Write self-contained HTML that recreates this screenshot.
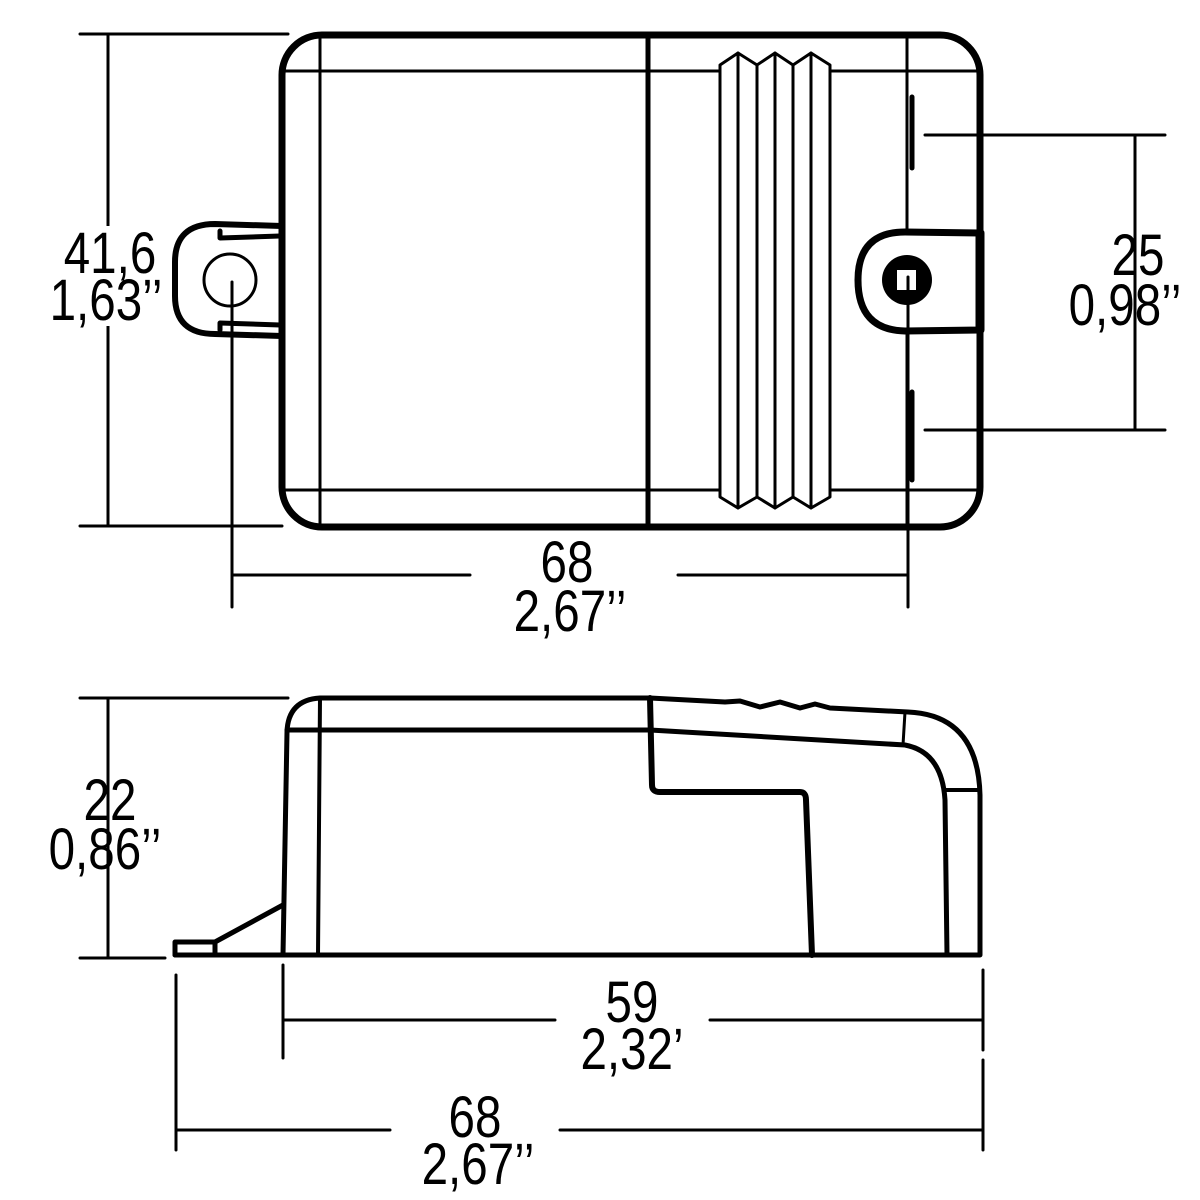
<!DOCTYPE html>
<html><head><style>html,body{margin:0;padding:0;background:#fff}svg{display:block}text{font-family:"Liberation Sans",sans-serif;font-size:58px;fill:#000}</style></head>
<body>
<svg width="1200" height="1200" viewBox="0 0 1200 1200" xmlns="http://www.w3.org/2000/svg" fill="none" stroke="#000" stroke-linecap="round" stroke-linejoin="round">
<!-- TOP VIEW -->
<g stroke-width="3">
<line x1="80" y1="34" x2="288" y2="34"/><line x1="80" y1="526" x2="282" y2="526"/>
<line x1="108" y1="34" x2="108" y2="526"/>
<line x1="232" y1="282" x2="232" y2="607"/><line x1="908" y1="290" x2="908" y2="607"/>
<line x1="232" y1="575" x2="470" y2="575"/><line x1="678" y1="575" x2="908" y2="575"/>
<line x1="925" y1="135" x2="1165" y2="135"/><line x1="925" y1="430" x2="1165" y2="430"/>
<line x1="1135" y1="135" x2="1135" y2="430"/>
</g>
<rect x="50" y="226" width="120" height="100" fill="#fff" stroke="none"/>
<!-- left tab -->
<path d="M282 226 L215 224 Q175 224 175 262 L175 296 Q175 334 215 334 L282 336" stroke-width="6"/>
<path d="M220 231 L220 238 L280 236 M220 330 L220 323 L280 325" stroke-width="5"/>
<circle cx="230" cy="280" r="26" stroke-width="3"/>
<!-- body -->
<rect x="282" y="35" width="698" height="492" rx="40" stroke-width="7"/>
<g stroke-width="3">
<line x1="282" y1="71" x2="720" y2="71"/><line x1="830" y1="71" x2="980" y2="71"/>
<line x1="282" y1="490" x2="720" y2="490"/><line x1="830" y1="490" x2="980" y2="490"/>
<line x1="320" y1="35" x2="320" y2="527"/>
<line x1="907" y1="35" x2="907" y2="527"/>
</g>
<line x1="648" y1="35" x2="648" y2="527" stroke-width="5"/>
<!-- ribs -->
<g stroke-width="3">
<path d="M720 65 L738 53 L757 65 L757 497 L738 508 L720 497 Z"/>
<path d="M757 65 L775 53 L793 65 L793 497 L775 508 L757 497 Z"/>
<path d="M793 65 L811 53 L830 65 L830 497 L811 508 L793 497 Z"/>
<line x1="738" y1="53" x2="738" y2="508"/><line x1="775" y1="53" x2="775" y2="508"/><line x1="811" y1="53" x2="811" y2="508"/>
</g>
<line x1="912" y1="97" x2="912" y2="168" stroke-width="5"/>
<line x1="912" y1="392" x2="912" y2="480" stroke-width="5"/>
<!-- right tab -->
<path d="M980 233 L905 232 Q858 232 858 280 Q858 330 905 331 L980 330 Z" fill="#fff" stroke-width="7"/>
<line x1="980" y1="233" x2="980" y2="330" stroke-width="9"/>
<circle cx="907" cy="280" r="25" fill="#000" stroke="none"/>
<rect x="897" y="270" width="19" height="20" fill="#fff" stroke="none"/>
<line x1="908" y1="277" x2="908" y2="330" stroke-width="3"/>
<!-- SIDE VIEW -->
<g stroke-width="3">
<line x1="80" y1="698" x2="288" y2="698"/><line x1="80" y1="958" x2="165" y2="958"/>
<line x1="108" y1="698" x2="108" y2="958"/>
<line x1="283" y1="965" x2="283" y2="1058"/><line x1="983" y1="970" x2="983" y2="1050"/>
<line x1="283" y1="1020" x2="555" y2="1020"/><line x1="710" y1="1020" x2="983" y2="1020"/>
<line x1="176" y1="975" x2="176" y2="1150"/><line x1="983" y1="1060" x2="983" y2="1150"/>
<line x1="176" y1="1130" x2="390" y2="1130"/><line x1="560" y1="1130" x2="983" y2="1130"/>
</g>
<path d="M175 955 L980 955 L980 795 Q978 715 908 712 L830 708 L815 704 L800 708 L780 702 L760 707 L740 701 L725 702 L650 698 L320 698 Q288 700 287 732 L283 955" stroke-width="5"/>
<path d="M287 730 L650 730 L905 745 Q942 752 945 800 L947 955" stroke-width="5"/>
<path d="M650 698 L652 785 Q652 792 660 792 L800 792 Q806 792 806 800 L812 955" stroke-width="6"/>
<line x1="320" y1="698" x2="318" y2="955" stroke-width="4"/>
<line x1="905" y1="712" x2="903" y2="745" stroke-width="3"/>
<line x1="945" y1="790" x2="980" y2="790" stroke-width="4"/>
<path d="M175 955 L175 942 L215 942 L283 905 M215 942 L215 955" stroke-width="5"/>
<!-- TEXT -->
<g stroke="none">
<text transform="translate(110,273) scale(0.82,1)" text-anchor="middle">41,6</text>
<text transform="translate(106,320) scale(0.82,1)" text-anchor="middle">1,63’’</text>
<text transform="translate(1138,275) scale(0.82,1)" text-anchor="middle">25</text>
<text transform="translate(1125,325) scale(0.82,1)" text-anchor="middle">0,98’’</text>
<text transform="translate(567,582) scale(0.82,1)" text-anchor="middle">68</text>
<text transform="translate(570,631) scale(0.82,1)" text-anchor="middle">2,67’’</text>
<text transform="translate(110,820) scale(0.82,1)" text-anchor="middle">22</text>
<text transform="translate(105,869) scale(0.82,1)" text-anchor="middle">0,86’’</text>
<text transform="translate(632,1022) scale(0.82,1)" text-anchor="middle">59</text>
<text transform="translate(632,1069) scale(0.82,1)" text-anchor="middle">2,32’</text>
<text transform="translate(475,1137) scale(0.82,1)" text-anchor="middle">68</text>
<text transform="translate(478,1184) scale(0.82,1)" text-anchor="middle">2,67’’</text>
</g>
</svg>
</body></html>
